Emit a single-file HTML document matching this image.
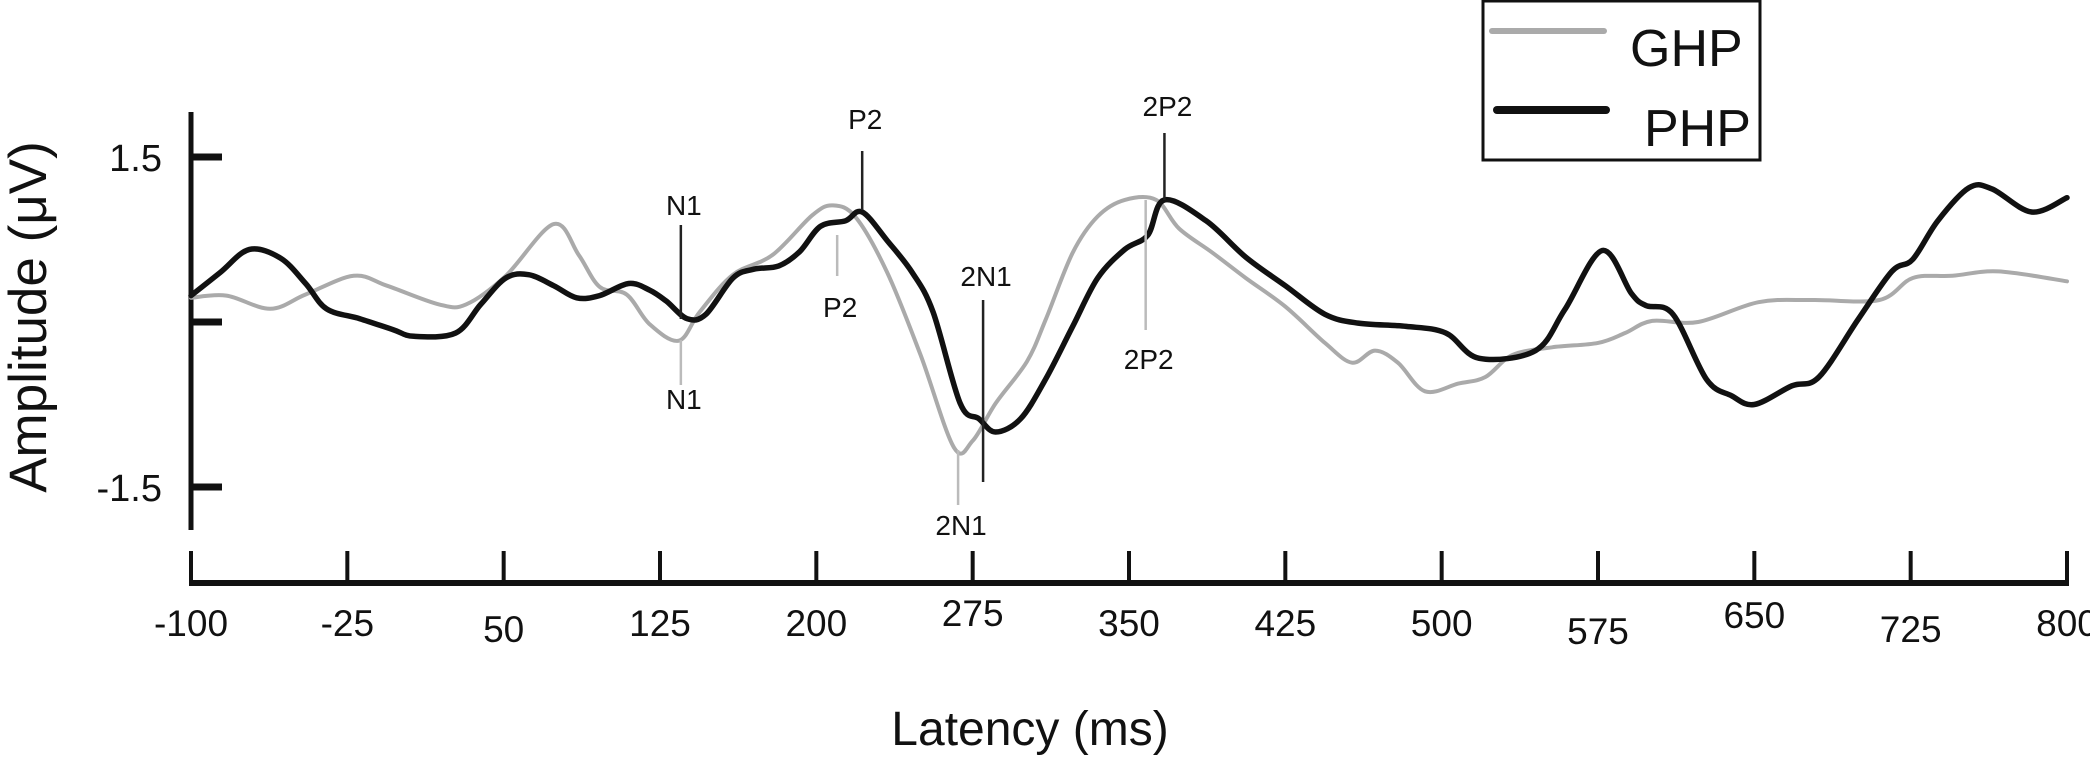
<!DOCTYPE html>
<html><head><meta charset="utf-8"><style>
html,body{margin:0;padding:0;background:#fff;}
svg{display:block;font-family:"Liberation Sans",Arial,sans-serif;}
</style></head><body>
<svg id="chart" width="2090" height="761" viewBox="0 0 2090 761" xmlns="http://www.w3.org/2000/svg">
<text x="0" y="0" transform="translate(46,317) rotate(-90)" text-anchor="middle" font-size="53" fill="#111">Amplitude (μV)</text>
<text x="1030" y="745" text-anchor="middle" font-size="48" fill="#111">Latency (ms)</text>
<g id="axes"></g>
<g id="series"></g>
<g id="annots"></g>
<g>
<rect x="1483" y="1" width="277" height="159" fill="#fff" stroke="#111" stroke-width="3"/>
<line x1="1492" y1="31" x2="1604" y2="31" stroke="#aaa" stroke-width="6" stroke-linecap="round"/>
<text x="1630" y="66" font-size="52" fill="#111">GHP</text>
<line x1="1497" y1="110" x2="1606" y2="110" stroke="#111" stroke-width="8" stroke-linecap="round"/>
<text x="1644" y="146" font-size="52" fill="#111">PHP</text>
</g>
</svg>
<script>
const xTicks=[-100,-25,50,125,200,275,350,425,500,575,650,725,800];
const xTickOffsets=[0,0,6,0,0,-10,0,0,0,8,-8,6,0];
const yTicks=[1.5,-1.5];
const yTickLabels=["1.5","-1.5"];
const ghpLat=[-100,-83,-62,-45,-22,-6,19,32,51,74,86,96,109,120,134,144,160,179,198,208,219,234,250,266,275,286,301,310,323,335,348,363,374,390,406,425,444,457,468,479,492,508,521,534,553,575,588,601,623,652,678,710,726,745,767,800];
const ghpAmp=[0.22,0.24,0.12,0.25,0.42,0.33,0.16,0.16,0.42,0.89,0.61,0.32,0.25,-0.02,-0.17,0.09,0.43,0.61,0.97,1.06,0.95,0.45,-0.30,-1.14,-1.08,-0.74,-0.36,0.02,0.63,0.96,1.11,1.11,0.85,0.63,0.40,0.14,-0.19,-0.37,-0.26,-0.37,-0.63,-0.56,-0.50,-0.30,-0.23,-0.19,-0.10,0.01,0.00,0.18,0.20,0.20,0.40,0.42,0.46,0.37];
const phpLat=[-100,-86,-72,-57,-45,-35,-19,-3,7,27,39,51,62,74,85,96,110,120,128,138,147,160,170,182,192,202,214,222,234,246,256,269,278,286,298,310,323,335,348,359,367,387,406,425,444,460,483,502,518,545,559,577,591,598,611,627,639,650,668,681,700,716,726,738,753,764,783,800];
const phpAmp=[0.24,0.45,0.66,0.58,0.35,0.12,0.03,-0.07,-0.13,-0.10,0.16,0.40,0.43,0.33,0.22,0.24,0.35,0.29,0.19,0.03,0.07,0.40,0.48,0.51,0.64,0.87,0.92,1.00,0.74,0.45,0.09,-0.74,-0.88,-1.00,-0.88,-0.52,-0.04,0.40,0.66,0.79,1.11,0.92,0.59,0.33,0.07,-0.01,-0.04,-0.10,-0.33,-0.26,0.11,0.65,0.26,0.15,0.07,-0.52,-0.67,-0.75,-0.58,-0.50,0.03,0.46,0.57,0.92,1.22,1.21,1.00,1.13];
const annotLabels=["N1","N1","P2","P2","2N1","2N1","2P2","2P2"];
const annotLat=[135,135,222,210,280,268,367,358];

const NS="http://www.w3.org/2000/svg";
const X=v=>191+(v+100)*(2067-191)/900;
const Y=v=>322-v*110;
function mk(tag,attrs,parent){const e=document.createElementNS(NS,tag);for(const k in attrs)e.setAttribute(k,attrs[k]);parent.appendChild(e);return e;}
const axes=document.getElementById('axes');
let e;
e=mk('line',{x1:191,y1:112,x2:191,y2:530,stroke:'#111','stroke-width':5},axes);


yTicks.forEach((t,i)=>{
  e=mk('line',{x1:191,y1:Y(t),x2:222,y2:Y(t),stroke:'#111','stroke-width':7},axes);
  
  
  e=mk('text',{x:162,y:Y(t)+14,'text-anchor':'end','font-size':38,fill:'#111'},axes);
  e.textContent=yTickLabels[i];
  
  
});
e=mk('line',{x1:191,y1:Y(0),x2:222,y2:Y(0),stroke:'#111','stroke-width':7},axes);


e=mk('line',{x1:189,y1:583,x2:2069,y2:583,stroke:'#111','stroke-width':6},axes);


xTicks.forEach((t,i)=>{
  e=mk('line',{x1:X(t),y1:551,x2:X(t),y2:583,stroke:'#111','stroke-width':4},axes);
  
  
  e=mk('text',{x:X(t),y:636+xTickOffsets[i],'text-anchor':'middle','font-size':37,fill:'#111'},axes);
  e.textContent=t;
  
  
});
const ser=document.getElementById('series');
function smooth(lat,amp){
  const p=lat.map((l,i)=>[X(l),Y(amp[i])]);
  let d='M'+p[0][0].toFixed(1)+','+p[0][1].toFixed(1);
  for(let i=0;i<p.length-1;i++){
    const p0=p[Math.max(0,i-1)],p1=p[i],p2=p[i+1],p3=p[Math.min(p.length-1,i+2)];
    const c1=[p1[0]+(p2[0]-p0[0])/6,p1[1]+(p2[1]-p0[1])/6];
    const c2=[p2[0]-(p3[0]-p1[0])/6,p2[1]-(p3[1]-p1[1])/6];
    d+=' C'+c1.map(v=>v.toFixed(1)).join(',')+' '+c2.map(v=>v.toFixed(1)).join(',')+' '+p2.map(v=>v.toFixed(1)).join(',');
  }
  return d;
}
e=mk('path',{d:smooth(ghpLat,ghpAmp),fill:'none',stroke:'#aaa','stroke-width':4,'stroke-linejoin':'round','stroke-linecap':'round'},ser);


e=mk('path',{d:smooth(phpLat,phpAmp),fill:'none',stroke:'#111','stroke-width':5.5,'stroke-linejoin':'round','stroke-linecap':'round'},ser);


const an=document.getElementById('annots');
const annotGeom=[[225,319,215,'#222'],[340,385,409,'#bbb'],[151,210,129,'#222'],[235,276,317,'#bbb'],[300,482,286,'#222'],[450,505,535,'#bbb'],[133,200,116,'#222'],[200,330,369,'#bbb']];
annotLabels.forEach((lab,i)=>{
  const g=annotGeom[i];const x=X(annotLat[i]);
  e=mk('line',{x1:x,y1:g[0],x2:x,y2:g[1],stroke:g[3],'stroke-width':2.5},an);
  
  
  e=mk('text',{x:x+3,y:g[2],'text-anchor':'middle','font-size':28,fill:'#111'},an);
  e.textContent=lab;
  
  
});
</script>
</body></html>
